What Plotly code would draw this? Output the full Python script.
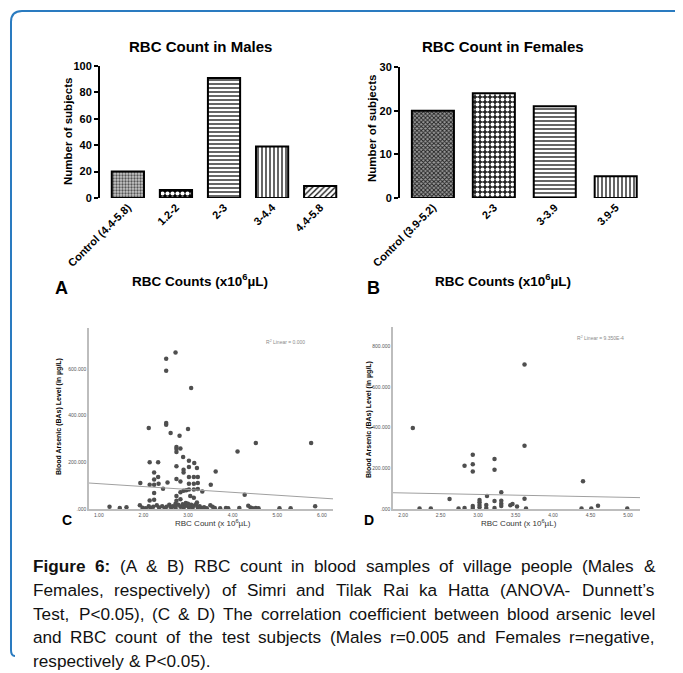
import numpy as np
import plotly.graph_objects as go

# picture is 683x673; the page body has an 8px margin, so the figure starts at (8, 8)
PAGE_W, PAGE_H = 683, 673
OFF = 8
W, H = PAGE_W - OFF, PAGE_H - OFF
FONT = "Liberation Sans, Arial, sans-serif"

# ---------------- data ----------------
male_cats = ["Control (4.4-5.8)", "1.2-2", "2-3", "3-4.4", "4.4-5.8"]
male_counts = [20, 6, 91, 39, 9]

female_cats = ["Control (3.9-5.2)", "2-3", "3-3.9", "3.9-5"]
female_counts = [20, 24, 21, 5]

male_rbc = [2.72, 2.51, 2.51, 3.07, 2.12, 2.51, 2.51, 3.00, 2.61, 2.81, 2.74, 2.74, 2.74, 2.83, 2.89,
            4.11, 4.52, 5.76, 2.14, 2.33, 3.02, 3.14, 3.02, 3.20, 2.74, 2.90, 2.90, 2.24, 3.62, 2.33,
            2.24, 2.83, 2.74, 3.02, 3.13, 3.22, 3.02, 3.13, 3.22, 1.93, 2.14, 2.24, 2.34, 2.54, 2.44,
            2.24, 2.83, 2.90, 2.96, 3.02, 3.13, 3.22, 3.51, 3.32, 4.27, 2.14, 2.24, 2.74, 2.74, 2.83,
            3.05, 3.13, 3.20, 2.95,
            1.24, 1.47, 1.62, 1.92, 1.98, 2.05, 2.12, 2.16, 2.22, 2.30, 2.35, 2.42, 2.48, 2.52, 2.58,
            2.62, 2.66, 2.72, 2.72, 2.72, 2.78, 2.83, 2.88, 2.90, 2.95, 3.00, 3.02, 3.07, 3.10, 3.13,
            3.18, 3.22, 3.26, 3.30, 3.36, 3.42, 3.50, 3.55, 3.60, 3.72, 3.85, 3.90, 4.15, 4.35, 4.40,
            4.45, 4.52, 4.58, 5.05, 5.30, 5.85]
male_bas = [671, 644, 593, 519, 347, 369, 361, 343, 326, 314, 266, 257, 244, 259, 223,
            247, 283, 283, 200, 200, 207, 197, 180, 176, 183, 168, 157, 157, 161, 137,
            126, 118, 129, 137, 137, 137, 108, 108, 112, 111, 104, 104, 108, 114, 87,
            69, 72, 78, 80, 84, 84, 86, 104, 75, 61, 36, 40, 56, 35, 42,
            56, 48, 28, 26,
            10, 4, 8, 16, 5, 3, 12, 4, 10, 16, 6, 12, 4, 10, 18,
            6, 12, 22, 14, 4, 18, 10, 20, 4, 14, 22, 8, 18, 4, 14,
            20, 6, 12, 4, 8, 3, 16, 10, 4, 3, 4, 3, 4, 14, 6,
            3, 4, 3, 3, 3, 12]

female_rbc = [2.13, 3.62, 3.62, 2.93, 2.82, 2.93, 2.93, 3.22, 3.22, 4.40, 3.31, 3.12, 2.62, 3.62,
              2.22, 2.37, 2.74, 2.82, 2.93, 2.93, 3.02, 3.02, 3.02, 3.02, 3.11, 3.11, 3.22, 3.22,
              3.31, 3.31, 3.31, 3.43, 3.46, 3.52, 3.64, 4.38, 4.51, 4.60, 4.99]
female_bas = [398, 711, 311, 267, 213, 220, 184, 246, 193, 136, 82, 64, 49, 51,
              2, 2, 2, 5, 15, 5, 44, 33, 20, 8, 20, 5, 39, 5,
              41, 26, 15, 18, 25, 12, 2, 2, 2, 16, 2]

male_fit = (121.0, -12.4)      # intercept, slope of the linear fit line
female_fit = (93.6, -7.3)

male_r2 = "R<sup>2</sup> Linear = 0.000"
female_r2 = "R<sup>2</sup> Linear = 9.350E-4"

male_ticks = [0, 20, 40, 60, 80, 100]
female_ticks = [0, 10, 20, 30]
c_xticks = [1, 2, 3, 4, 5, 6]
c_yticks = [0, 200, 400, 600]
d_xticks = [2.0, 2.5, 3.0, 3.5, 4.0, 4.5, 5.0]
d_yticks = [0, 200, 400, 600, 800]

caption_lines = [
    "Figure 6: (A & B) RBC count in blood samples of village people (Males &",
    "Females, respectively) of Simri and Tilak Rai ka Hatta (ANOVA- Dunnett\u2019s",
    "Test, P<0.05), (C & D) The correlation coefficient between blood arsenic level",
    "and RBC count of the test subjects (Males r=0.005 and Females r=negative,",
    "respectively & P<0.05).",
]
caption_bold_words = 2  # "Figure 6:" is bold


def fx(px):
    return (px - OFF) / W


def fy(py):
    return 1 - (py - OFF) / H


fig = go.Figure()

# ---------------- bar panels ----------------
fig.add_trace(go.Bar(
    x=male_cats, y=male_counts, xaxis="x", yaxis="y", width=0.67,
    marker=dict(
        color="white",
        line=dict(color="black", width=2),
        pattern=dict(
            shape=[".", ".", "-", "|", "/"],
            fgcolor=["#555555", "white", "black", "black", "black"],
            bgcolor=["#c8c8c8", "black", "white", "white", "white"],
            size=[3, 5, 4, 4, 4],
            solidity=[0.45, 0.55, 0.3, 0.3, 0.3],
            fillmode="replace",
        ),
    ),
    showlegend=False, hoverinfo="x+y",
))

fig.add_trace(go.Bar(
    x=female_cats, y=female_counts, xaxis="x2", yaxis="y2", width=0.69,
    marker=dict(
        color="white",
        line=dict(color="black", width=2),
        pattern=dict(
            shape=["x", ".", "-", "|"],
            fgcolor=["#222222", "white", "black", "black"],
            bgcolor=["#9a9a9a", "#222222", "white", "white"],
            size=[3, 5, 4, 4],
            solidity=[0.5, 0.5, 0.3, 0.3],
            fillmode="replace",
        ),
    ),
    showlegend=False, hoverinfo="x+y",
))

# ---------------- scatter panels ----------------
c_xr = [0.78, 6.25]
d_xr = [1.866, 5.16]

fig.add_trace(go.Scatter(
    x=male_rbc, y=male_bas, mode="markers", xaxis="x3", yaxis="y3",
    marker=dict(size=4.5, color="#4f4f4f"), cliponaxis=False, showlegend=False,
))
cx = np.array(c_xr)
fig.add_trace(go.Scatter(
    x=cx, y=male_fit[0] + male_fit[1] * cx, mode="lines", xaxis="x3", yaxis="y3",
    line=dict(color="#a0a0a0", width=1), showlegend=False, hoverinfo="skip",
))

fig.add_trace(go.Scatter(
    x=female_rbc, y=female_bas, mode="markers", xaxis="x4", yaxis="y4",
    marker=dict(size=4.5, color="#4f4f4f"), cliponaxis=False, showlegend=False,
))
dx = np.array(d_xr)
fig.add_trace(go.Scatter(
    x=dx, y=female_fit[0] + female_fit[1] * dx, mode="lines", xaxis="x4", yaxis="y4",
    line=dict(color="#a0a0a0", width=1), showlegend=False, hoverinfo="skip",
))

bold_tick = dict(family=FONT, size=11, color="black", weight="bold")
small_tick = dict(family=FONT, size=5, color="#555555")


def zero_fmt(v):
    return ".000" if v == 0 else "%.3f" % v


common = dict(automargin=False, showgrid=False, zeroline=False, fixedrange=True)

fig.update_layout(
    template="none",
    width=W, height=H, autosize=False,
    margin=dict(l=0, r=0, t=0, b=0, pad=0),
    paper_bgcolor="white", plot_bgcolor="white",
    font=dict(family=FONT),
    bargap=0.3,
    xaxis=dict(domain=[fx(100), fx(349)], anchor="y", type="category", range=[-0.58, 4.6],
               tickangle=-45, tickfont=bold_tick, showline=False, ticks="", **common),
    yaxis=dict(domain=[fy(198), fy(66)], anchor="x", range=[0, 100], tickvals=male_ticks,
               tickfont=bold_tick, showline=True, linecolor="black", linewidth=2,
               ticks="outside", ticklen=4, tickwidth=2, tickcolor="black", **common),
    xaxis2=dict(domain=[fx(400), fx(648)], anchor="y2", type="category", range=[-0.54, 3.53],
                tickangle=-45, tickfont=bold_tick, showline=False, ticks="", **common),
    yaxis2=dict(domain=[fy(198), fy(67)], anchor="x2", range=[0, 30], tickvals=female_ticks,
                tickfont=bold_tick, showline=True, linecolor="black", linewidth=2,
                ticks="outside", ticklen=4, tickwidth=2, tickcolor="black", **common),
    xaxis3=dict(domain=[fx(89), fx(333)], anchor="y3", range=c_xr, tickvals=c_xticks,
                ticktext=["%.2f" % v for v in c_xticks], tickfont=small_tick,
                showline=True, linecolor="#bdbdbd", linewidth=1.5, ticks="", **common),
    yaxis3=dict(domain=[fy(509), fy(328)], anchor="x3", range=[0, 776], tickvals=c_yticks,
                ticktext=[zero_fmt(v) for v in c_yticks],
                tickfont=small_tick, showline=True, linecolor="#bdbdbd", linewidth=1.5,
                ticks="", **common),
    xaxis4=dict(domain=[fx(393), fx(640)], anchor="y4", range=d_xr, tickvals=d_xticks,
                ticktext=["%.2f" % v for v in d_xticks], tickfont=small_tick,
                showline=True, linecolor="#bdbdbd", linewidth=1.5, ticks="", **common),
    yaxis4=dict(domain=[fy(509), fy(327)], anchor="x4", range=[0, 895], tickvals=d_yticks,
                ticktext=[zero_fmt(v) for v in d_yticks],
                tickfont=small_tick, showline=True, linecolor="#bdbdbd", linewidth=1.5,
                ticks="", **common),
)

ann = []


def add_text(text, px, py, size, xanchor="center", yanchor="middle", bold=False,
             color="black", angle=0):
    ann.append(dict(
        text=text, x=fx(px), y=fy(py), xref="paper", yref="paper",
        xanchor=xanchor, yanchor=yanchor, showarrow=False, textangle=angle,
        font=dict(family=FONT, size=size, color=color, weight="bold" if bold else "normal"),
    ))


# titles A/B
add_text("RBC Count in Males", 200, 46, 15, bold=True)
add_text("RBC Count in Females", 503, 46, 15, bold=True)
add_text("Number of subjects", 68, 132, 11.5, bold=True, angle=-90)
add_text("Number of subjects", 372, 128, 11.5, bold=True, angle=-90)
add_text("RBC Counts (x10<sup>6</sup>\u00b5L)", 200, 280, 13.5, bold=True)
add_text("RBC Counts (x10<sup>6</sup>\u00b5L)", 503, 280, 13.5, bold=True)
add_text("A", 53, 288, 18, xanchor="left", bold=True)
add_text("B", 365, 288, 18, xanchor="left", bold=True)

# C/D
add_text("Blood Arsenic (BAs) Level (in \u00b5g/L)", 59, 417, 7, bold=True, angle=-90)
add_text("Blood Arsenic (BAs) Level (in \u00b5g/L)", 369, 420, 7, bold=True, angle=-90)
add_text("RBC Count (x 10<sup>6</sup>\u00b5L)", 213, 523, 8, color="#333333")
add_text("RBC Count (x 10<sup>6</sup>\u00b5L)", 519, 523, 8, color="#333333")
add_text("C", 60, 520, 14, xanchor="left", bold=True)
add_text("D", 362, 520, 14, xanchor="left", bold=True)
add_text(male_r2, 285, 342, 5, color="#8a8a8a")
add_text(female_r2, 600, 338, 5, color="#8a8a8a")

# ---------------- caption (justified, word by word) ----------------
AW = {' ': 278, '!': 278, '"': 355, '#': 556, '$': 556, '%': 889, '&': 667, "'": 191, '(': 333,
      ')': 333, '*': 389, '+': 584, ',': 278, '-': 333, '.': 278, '/': 278, ':': 278, ';': 278,
      '<': 584, '=': 584, '>': 584, '?': 556, '@': 1015, 'A': 667, 'B': 667, 'C': 722, 'D': 722,
      'E': 667, 'F': 611, 'G': 778, 'H': 722, 'I': 278, 'J': 500, 'K': 667, 'L': 556, 'M': 833,
      'N': 722, 'O': 778, 'P': 667, 'Q': 778, 'R': 722, 'S': 667, 'T': 611, 'U': 722, 'V': 667,
      'W': 944, 'X': 667, 'Y': 667, 'Z': 611, 'a': 556, 'b': 556, 'c': 500, 'd': 556, 'e': 556,
      'f': 278, 'g': 556, 'h': 556, 'i': 222, 'j': 222, 'k': 500, 'l': 222, 'm': 833, 'n': 556,
      'o': 556, 'p': 556, 'q': 556, 'r': 333, 's': 500, 't': 278, 'u': 556, 'v': 500, 'w': 722,
      'x': 500, 'y': 500, 'z': 500, '\u2019': 222}
for d in "0123456789":
    AW[d] = 556
ABW = dict(AW)
ABW.update({'F': 611, 'i': 278, 'g': 611, 'u': 611, 'r': 389, 'e': 556, ':': 333})


def wwidth(word, size, bold=False):
    tab = ABW if bold else AW
    return sum(tab.get(c, 556) for c in word) * size / 1000.0


def esc(s):
    return s.replace("&", "&amp;").replace("<", "&lt;").replace(">", "&gt;")


CAP_SIZE = 17.2
CAP_L, CAP_R = 31, 653
cap_y = [566, 590, 614, 637, 661]
for li, (line, yy) in enumerate(zip(caption_lines, cap_y)):
    words = line.split(" ")
    bolds = [li == 0 and wi < caption_bold_words for wi in range(len(words))]
    widths = [wwidth(w, CAP_SIZE, b) for w, b in zip(words, bolds)]
    last = li == len(caption_lines) - 1
    if last:
        gap = AW[' '] * CAP_SIZE / 1000.0
    else:
        gap = (CAP_R - CAP_L - sum(widths)) / (len(words) - 1)
    x = CAP_L
    for w, b, wd in zip(words, bolds, widths):
        add_text(esc(w), x, yy, CAP_SIZE, xanchor="left", bold=b, color="#111111")
        x += wd + gap

fig.update_layout(annotations=ann)


# frame
def P(x, y):
    return "%.5f,%.5f" % (fx(x), fy(y))


path = ("M " + P(683, 11) + " L " + P(22, 11) + " Q " + P(11, 11) + " " + P(11, 22) +
        " L " + P(11, 650) + " Q " + P(11, 656) + " " + P(15, 656))
fig.update_layout(shapes=[dict(type="path", path=path, xref="paper", yref="paper",
                               line=dict(color="#2a7bc0", width=2))])

fig.write_html("out.html")
